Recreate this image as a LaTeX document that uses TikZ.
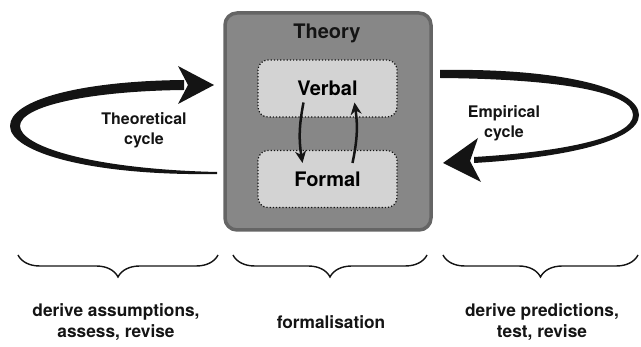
\documentclass[tikz,border=0pt]{standalone}
\usepackage{fontspec}
\setmainfont{TeX Gyre Heros}
\usetikzlibrary{arrows.meta,decorations.pathreplacing,calc}

\definecolor{boxgray}{HTML}{878787}
\definecolor{boxedge}{HTML}{656565}
\definecolor{innergray}{HTML}{D3D3D3}
\definecolor{inkdark}{HTML}{141414}

\begin{document}
\begin{tikzpicture}[x=1pt, y=-1pt,
	theorybox/.style={draw=boxedge, fill=boxgray, line width=3.5pt, rounded corners=12pt,
		minimum width=206pt, minimum height=217pt},
	partbox/.style={draw=inkdark, fill=innergray, dotted, line width=1.2pt, rounded corners=10pt,
		minimum width=139pt, minimum height=57pt, font=\fontsize{20}{23}\selectfont\bfseries},
	bigtext/.style={font=\fontsize{20}{23}\selectfont\bfseries, text=inkdark},
	cycletext/.style={font=\fontsize{16}{20}\selectfont\bfseries, text=inkdark, align=center},
	smalltext/.style={font=\fontsize{17.3}{21.5}\selectfont\bfseries, text=inkdark, align=center},
	innerarrow/.style={-{Stealth[length=12pt,width=11pt]}, line width=2.5pt, draw=inkdark, bend right=10},
	bracestyle/.style={decorate, decoration={brace, mirror, amplitude=22pt}, line width=1.4pt, draw=inkdark}]
	\useasboundingbox (0,0) rectangle (641,347);

	% theory box
	\node (theory) [theorybox] at (328,121.5) {};
	\node (theorytitle) [bigtext] at (327,33) {Theory};
	\node (verbal) [partbox] at (327.5,88.5) {Verbal};
	\node (formal) [partbox] at (327.5,179) {Formal};
	\draw[innerarrow] ($(verbal.center)+(-24,14)$) to ($(formal.center)+(-25,-16)$);
	\draw[innerarrow] ($(formal.center)+(25,-16)$) to ($(verbal.center)+(27,14)$);

	% theoretical cycle
	\coordinate (ltail) at (217,172);
	\coordinate (ltip) at (214,85);
	\fill[inkdark] (ltail) ++(0,2) .. controls (90,176) and (10,152) .. (10,126)
		.. controls (10,100) and (80,81) .. (184,80) -- (184,90)
		.. controls (90,91) and (20,106) .. (20,126)
		.. controls (20,146) and (90,169) .. (ltail) -- cycle;
	\fill[inkdark] (ltip) -- (178,66) -- (188,85) -- (178,104) -- cycle;
	\node (theorlabel) [cycletext] at (144,130) {Theoretical\\cycle};

	% empirical cycle
	\coordinate (rtail) at (440,74);
	\coordinate (rtip) at (443,163);
	\fill[inkdark] (rtail) ++(0,-4) .. controls (560,68) and (639,88) .. (639,115)
		.. controls (639,142) and (560,158) .. (474,163) -- (474,157)
		.. controls (560,152) and (633,138) .. (633,115)
		.. controls (633,92) and (560,79) .. (440,78) -- cycle;
	\fill[inkdark] (rtip) -- (478,138) -- (470,161) -- (481,182) -- cycle;
	\node (emplabel) [cycletext] at (504,123) {Empirical\\cycle};

	% braces and their texts
	\draw[bracestyle] (18,255) -- (218,255);
	\draw[bracestyle] (233,255) -- (427,255);
	\draw[bracestyle] (443,255) -- (638,255);
	\node (assume) [smalltext] at (116,322) {derive assumptions,\\assess, revise};
	\node (formalise) [smalltext] at (331,322) {formalisation};
	\node (predict) [smalltext] at (542,322) {derive predictions,\\test, revise};
\end{tikzpicture}
\end{document}
